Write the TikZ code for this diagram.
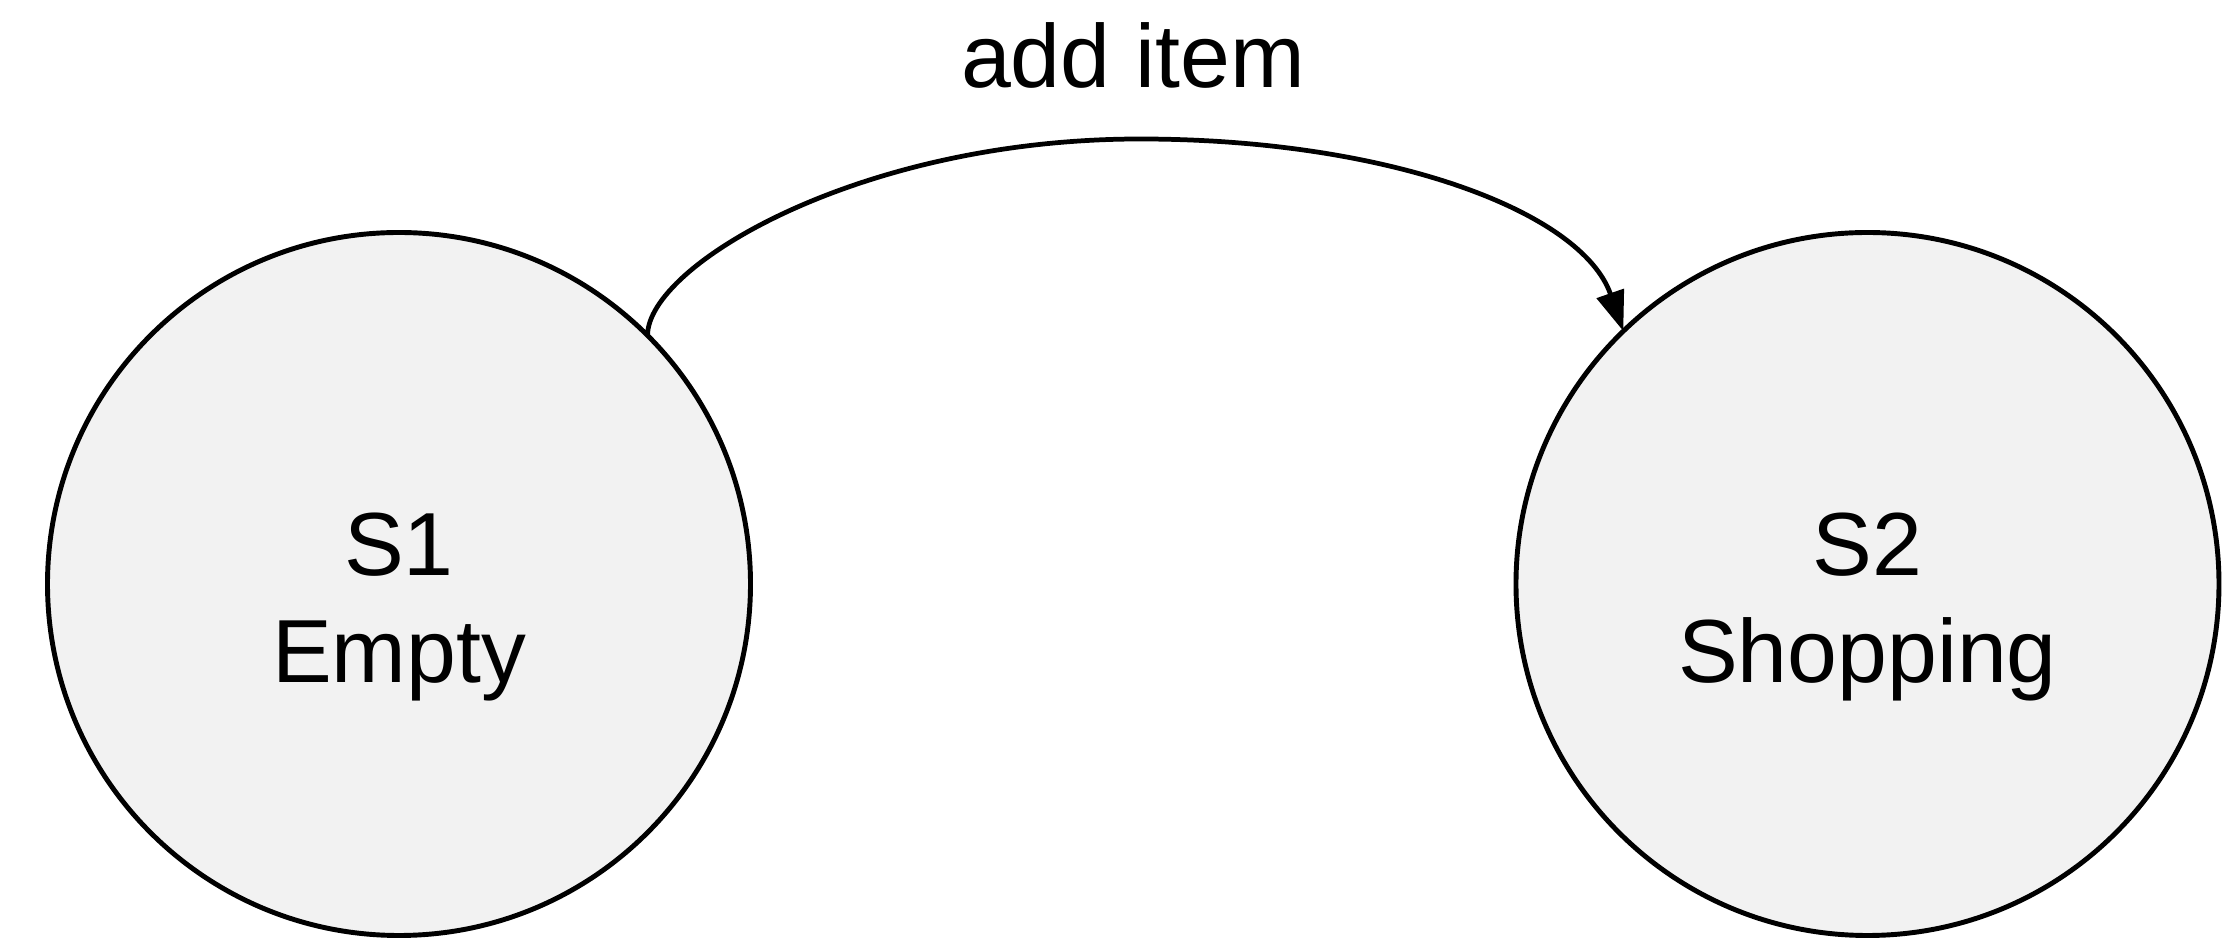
\documentclass[tikz,border=0pt]{standalone}
\usepackage{fontspec}
\setmainfont{Liberation Sans}
\usetikzlibrary{arrows.meta}
\definecolor{statefill}{HTML}{F2F2F2}
\tikzset{
  statecircle/.style={circle, draw=black, line width=1.4pt, fill=statefill, minimum size=7.03cm, inner sep=0pt, outer sep=0pt},
  statetext/.style={align=center, font=\fontsize{25.5}{30.7}\selectfont, inner sep=0pt},
  trans/.style={line width=1.35pt, -{Triangle[length=0.40cm, width=0.28cm]}},
  translabel/.style={font=\fontsize{25.5}{30.7}\selectfont, inner sep=0pt, anchor=base}
}
\begin{document}
\begin{tikzpicture}
\useasboundingbox (0,0) rectangle (22.24,9.38);
\node[statecircle] (s1) at (3.99,3.54) {};
\node[statecircle] (s2) at (18.675,3.54) {};
\node[statetext] (s1t) at ([yshift=-0.23cm]s1.center) {S1\\Empty};
\node[statetext] (s2t) at ([yshift=-0.23cm]s2.center) {S2\\Shopping};
\coordinate (peak) at (11.40,7.99);
\draw[trans] (s1.45) .. controls +(0,0.7) and (8.6,7.99) .. (peak)
  .. controls (13.9,7.99) and (15.82,7.26) .. (s2.134);
\node[translabel] (lbl) at (11.33,8.50) {add item};
\end{tikzpicture}
\end{document}
